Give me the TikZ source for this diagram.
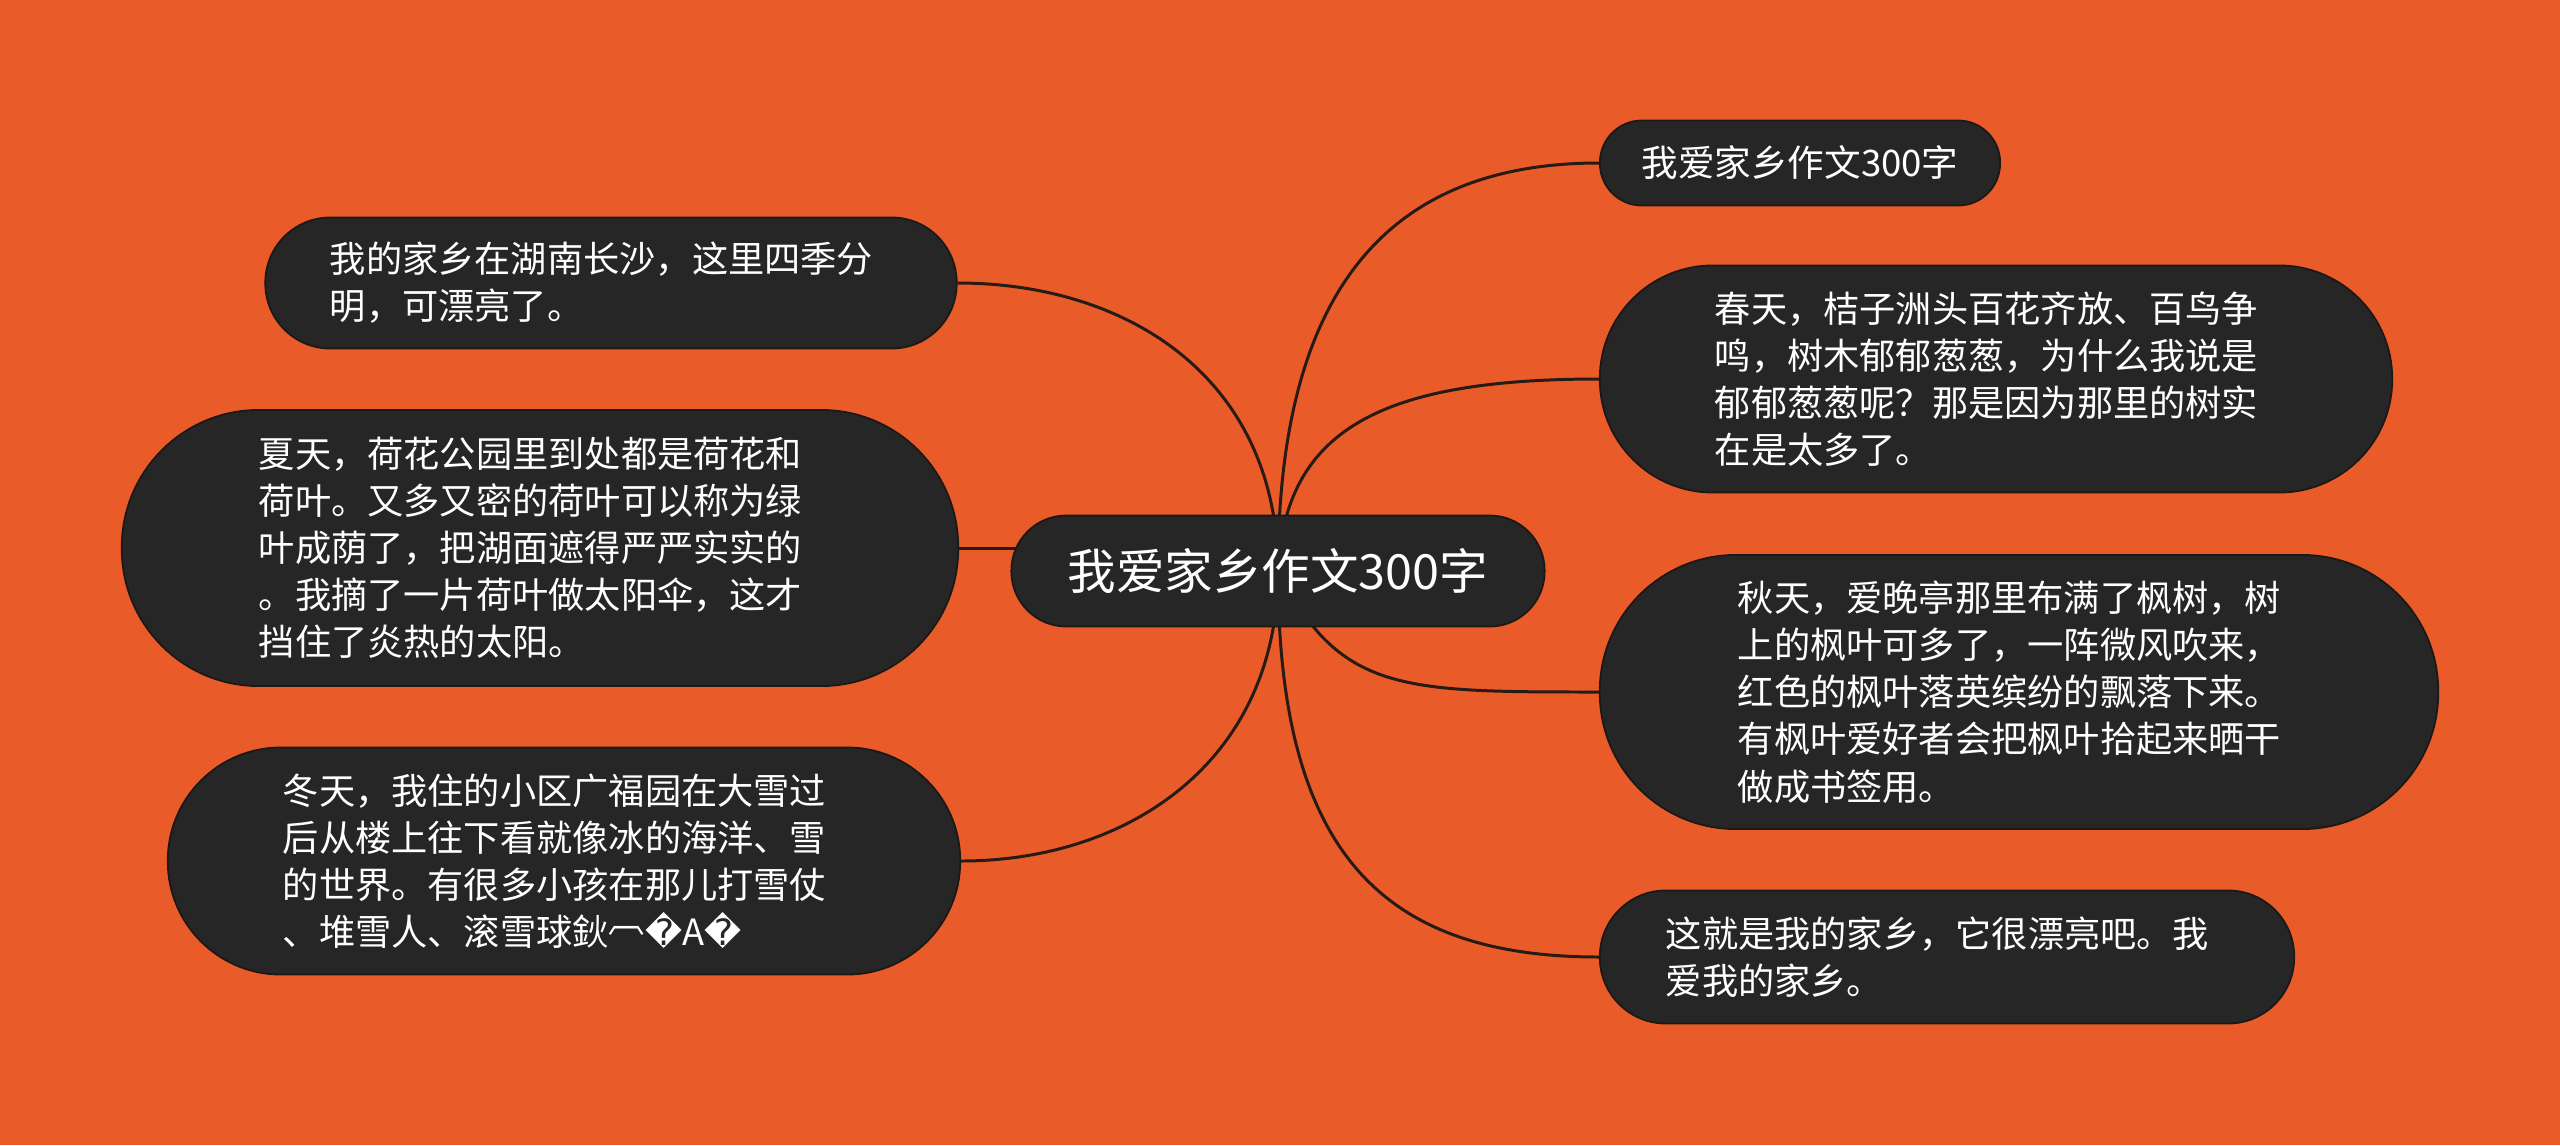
\documentclass[tikz,border=0pt]{standalone}
\usepackage{fontspec}
\setmainfont{Noto Sans CJK SC}
\newfontfamily\dvs{DejaVu Sans}
\usetikzlibrary{backgrounds}
\definecolor{bgor}{RGB}{233,92,42}
\definecolor{nodebg}{RGB}{38,38,38}
\definecolor{nodeln}{RGB}{28,24,22}
\definecolor{linec}{RGB}{40,26,20}
\begin{document}
\begin{tikzpicture}[x=0.01cm,y=-0.01cm,
  base/.style={fill=nodebg, draw=nodeln, line width=0.5pt, text=white, inner sep=0pt},
  topic/.style={base, font=\fontsize{10.3pt}{13.4pt}\selectfont, align=left, text width=5.62cm},
  conn/.style={draw=linec, line width=0.85pt}]
\useasboundingbox (0,0) rectangle (2560,1145);

\node[base, minimum width=5.33cm, minimum height=1.11cm, rounded corners=0.55cm,
      font=\fontsize{13.8pt}{16pt}\selectfont] (C) at (1278,571) {我爱家乡作文300字};

\node[topic, minimum width=6.91cm, minimum height=1.31cm, rounded corners=0.65cm] (L1) at (611,283)
  {我的家乡在湖南长沙，这里四季分\\明，可漂亮了。};
\node[topic, minimum width=8.36cm, minimum height=2.76cm, rounded corners=1.37cm] (L2) at (540,548)
  {夏天，荷花公园里到处都是荷花和\\荷叶。又多又密的荷叶可以称为绿\\叶成荫了，把湖面遮得严严实实的\\。我摘了一片荷叶做太阳伞，这才\\挡住了炎热的太阳。};
\node[topic, minimum width=7.92cm, minimum height=2.27cm, rounded corners=1.13cm] (L3) at (564,861)
  {冬天，我住的小区广福园在大雪过\\后从楼上往下看就像冰的海洋、雪\\的世界。有很多小孩在那儿打雪仗\\、堆雪人、滚雪球鈥\raisebox{0.35em}{︹}{\dvs �}A{\dvs �}};

\node[base, minimum width=4.00cm, minimum height=0.85cm, rounded corners=0.42cm,
      font=\fontsize{10.4pt}{13.4pt}\selectfont] (R1) at (1800,163) {我爱家乡作文300字};
\node[topic, minimum width=7.92cm, minimum height=2.27cm, rounded corners=1.13cm] (R2) at (1996,379)
  {春天，桔子洲头百花齐放、百鸟争\\鸣，树木郁郁葱葱，为什么我说是\\郁郁葱葱呢？那是因为那里的树实\\在是太多了。};
\node[topic, minimum width=8.38cm, minimum height=2.74cm, rounded corners=1.36cm] (R3) at (2019,692)
  {秋天，爱晚亭那里布满了枫树，树\\上的枫叶可多了，一阵微风吹来，\\红色的枫叶落英缤纷的飘落下来。\\有枫叶爱好者会把枫叶拾起来晒干\\做成书签用。};
\node[topic, minimum width=6.94cm, minimum height=1.33cm, rounded corners=0.66cm] (R4) at (1947,957)
  {这就是我的家乡，它很漂亮吧。我\\爱我的家乡。};

\begin{pgfonlayer}{background}
  \fill[bgor] (0,0) rectangle (2560,1145);
  \draw[conn] (C.center) .. controls (1278,300) and (1380,163) .. (R1.west);
  \draw[conn] (C.center) .. controls (1285,430) and (1380,379) .. (R2.west);
  \draw[conn] (C.center) .. controls (1340,692) and (1400,692) .. (R3.west);
  \draw[conn] (C.center) .. controls (1278,850) and (1380,957) .. (R4.west);
  \draw[conn] (C.center) .. controls (1278,380) and (1130,283) .. (L1.east);
  \draw[conn] (L2.east) -- (L2.east -| C.center);
  \draw[conn] (C.center) .. controls (1278,760) and (1130,861) .. (L3.east);
\end{pgfonlayer}
\end{tikzpicture}
\end{document}
